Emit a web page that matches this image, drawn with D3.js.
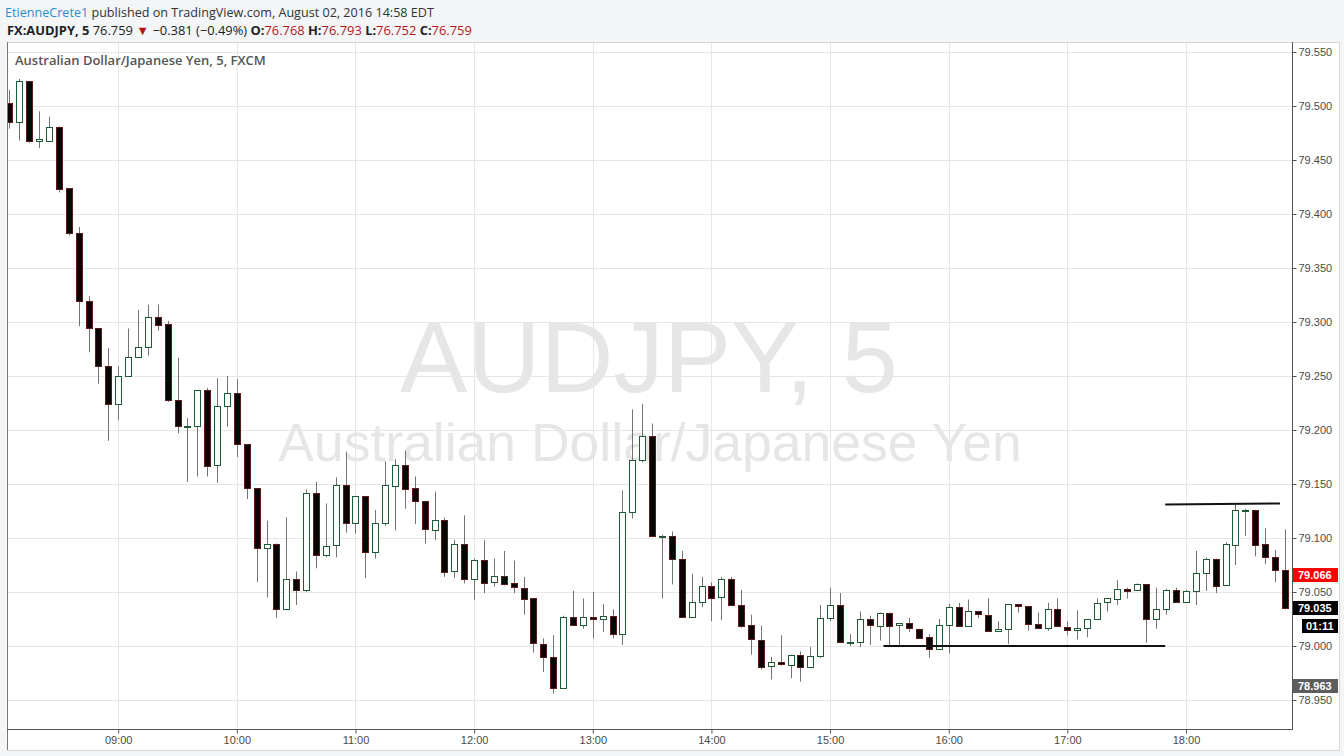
<!DOCTYPE html>
<html><head><meta charset="utf-8">
<script src="https://cdn.jsdelivr.net/npm/d3@7"></script>
<style>
html,body{margin:0;padding:0;background:#f3f5f7;}
svg{display:block;}
</style></head>
<body>
<svg id="c" width="1344" height="756"></svg>
<script>
// ---- data (AUDJPY 5-minute bars, first bar 08:05) ----
const startTime = [2016, 7, 2, 8, 5];
const opens = [79.503,79.485,79.523,79.467,79.468,79.481,79.424,79.382,79.319,79.294,
79.259,79.224,79.250,79.268,79.277,79.305,79.298,79.228,79.204,79.204,
79.237,79.167,79.222,79.234,79.187,79.146,79.090,79.094,79.034,79.062,
79.052,79.142,79.085,79.093,79.149,79.114,79.139,79.087,79.114,79.149,
79.168,79.146,79.134,79.108,79.117,79.069,79.094,79.062,79.080,79.059,
79.065,79.058,79.054,79.044,79.002,78.990,78.961,79.027,79.020,79.027,
79.025,79.028,79.011,79.124,79.172,79.194,79.101,79.102,79.081,79.027,
79.041,79.056,79.045,79.062,79.038,79.019,79.006,78.981,78.985,78.983,
78.992,78.981,78.991,79.026,79.038,79.004,79.004,79.025,79.019,79.031,
79.019,79.021,79.016,79.008,78.997,79.019,79.036,79.018,79.032,79.029,
79.014,79.016,79.039,79.037,79.020,79.016,79.034,79.018,79.015,79.017,
79.025,79.040,79.044,79.053,79.051,79.057,79.025,79.034,79.052,79.041,
79.051,79.068,79.081,79.056,79.094,79.126,79.126,79.094,79.082,79.070];
const highs = [79.515,79.525,79.523,79.495,79.490,79.481,79.424,79.388,79.324,79.294,
79.276,79.259,79.294,79.311,79.316,79.316,79.301,79.267,79.211,79.237,
79.239,79.248,79.250,79.247,79.187,79.146,79.116,79.095,79.119,79.069,
79.145,79.152,79.132,79.156,79.180,79.139,79.139,79.126,79.171,79.173,
79.181,79.157,79.134,79.143,79.119,79.098,79.121,79.081,79.098,79.081,
79.088,79.079,79.064,79.044,79.007,79.010,79.028,79.051,79.044,79.050,
79.039,79.034,79.144,79.219,79.224,79.206,79.103,79.106,79.088,79.067,
79.064,79.059,79.064,79.064,79.052,79.029,79.019,78.990,79.010,78.992,
78.995,78.999,79.038,79.054,79.049,79.011,79.032,79.028,79.031,79.031,
79.021,79.026,79.016,79.011,79.025,79.039,79.040,79.043,79.032,79.044,
79.023,79.039,79.039,79.037,79.031,79.040,79.044,79.023,79.033,79.025,
79.044,79.044,79.061,79.054,79.058,79.057,79.054,79.053,79.054,79.052,
79.088,79.082,79.081,79.096,79.132,79.127,79.126,79.109,79.089,79.108];
const lows = [79.479,79.468,79.466,79.461,79.467,79.420,79.380,79.296,79.272,79.243,
79.190,79.209,79.250,79.268,79.269,79.292,79.226,79.197,79.152,79.157,
79.157,79.151,79.203,79.175,79.136,79.059,79.045,79.026,79.034,79.038,
79.050,79.072,79.082,79.082,79.105,79.104,79.063,79.081,79.111,79.107,
79.127,79.113,79.095,79.098,79.064,79.063,79.058,79.043,79.049,79.055,
79.056,79.049,79.029,78.994,78.976,78.956,78.961,79.019,79.016,79.007,
79.013,79.007,79.001,79.118,79.170,79.101,79.044,79.057,79.027,79.027,
79.036,79.023,79.024,79.038,79.017,78.992,78.978,78.969,78.982,78.970,
78.967,78.981,78.989,79.023,79.004,79.000,78.999,79.001,79.005,79.001,
79.001,79.013,79.008,78.989,78.997,78.993,79.018,79.018,79.026,79.014,
79.014,79.002,79.031,79.014,79.016,79.014,79.018,79.010,79.006,79.008,
79.025,79.032,79.038,79.044,79.051,79.003,79.016,79.029,79.041,79.041,
79.038,79.051,79.049,79.056,79.075,79.102,79.083,79.076,79.059,79.034];
const closes = [79.485,79.523,79.467,79.469,79.481,79.424,79.382,79.319,79.294,79.259,
79.224,79.250,79.268,79.277,79.305,79.298,79.228,79.204,79.204,79.237,
79.167,79.222,79.234,79.187,79.146,79.090,79.094,79.034,79.062,79.052,
79.142,79.085,79.093,79.149,79.114,79.139,79.087,79.114,79.149,79.168,
79.146,79.134,79.108,79.117,79.069,79.094,79.062,79.080,79.059,79.065,
79.058,79.054,79.044,79.002,78.990,78.961,79.027,79.020,79.027,79.025,
79.028,79.011,79.124,79.172,79.194,79.101,79.102,79.081,79.027,79.041,
79.056,79.045,79.062,79.038,79.019,79.006,78.981,78.985,78.983,78.992,
78.981,78.991,79.026,79.038,79.004,79.004,79.025,79.019,79.031,79.019,
79.021,79.016,79.008,78.997,79.019,79.036,79.018,79.032,79.029,79.014,
79.016,79.039,79.037,79.020,79.016,79.034,79.018,79.015,79.017,79.025,
79.040,79.044,79.053,79.051,79.057,79.025,79.034,79.052,79.041,79.051,
79.068,79.081,79.056,79.094,79.126,79.126,79.094,79.082,79.070,79.035];

const priceTicks = [78.95,79.00,79.05,79.10,79.15,79.20,79.25,79.30,79.35,79.40,79.45,79.50,79.55];
const hourTicks = [9,10,11,12,13,14,15,16,17,18];
// drawn trend lines: [start bar index (fractional), start price, end bar index, end price]
const drawnLines = [[88.4,79.000,116.9,79.000],[116.9,79.131,128.5,79.132]];
// price labels on the axis: [text, price, kind]
const axisLabels = [["79.066",79.066,"red"],["79.035",79.035,"black"],["78.963",78.963,"grey"]];
const countdown = "01:11";

// ---- layout ----
const svg = d3.select("#c");
const L = 7, R = 1292, T = 42, B = 729;
const dt = i => new Date(startTime[0],startTime[1],startTime[2],startTime[3],startTime[4]+5*i);
const hourDate = h => new Date(2016,7,2,h,0);
const x = d3.scaleTime().domain([hourDate(9),hourDate(18)]).range([118.2,1186]);
const y = d3.scaleLinear().domain([79.0,79.55]).range([646,52]);
const FONT = "'Liberation Sans', Arial, sans-serif";
const HFONT = "'Open Sans', 'Liberation Sans', sans-serif";

// header
svg.append("rect").attr("width",1344).attr("height",756).attr("fill","#f3f5f7");
const h1 = svg.append("text").attr("x",5).attr("y",17).attr("font-family",HFONT).attr("font-size",12.6).attr("fill","#333");
h1.append("tspan").attr("fill","#2a8fce").text("EtienneCrete1");
h1.append("tspan").text(" published on TradingView.com, August 02, 2016 14:58 EDT");
const h2 = svg.append("text").attr("x",7).attr("y",35).attr("font-family",HFONT).attr("font-size",12.9).attr("fill","#222");
const parts = [["FX:AUDJPY, 5","700","#222"],[" 76.759 ","400","#222"],["▼","400","#b01818"],[" −0.381 (−0.49%) ","400","#222"],
  ["O:","700","#222"],["76.768 ","400","#b01818"],["H:","700","#222"],["76.793 ","400","#b01818"],
  ["L:","700","#222"],["76.752 ","400","#b01818"],["C:","700","#222"],["76.759","400","#b01818"]];
parts.forEach(p=>h2.append("tspan").attr("font-weight",p[1]).attr("fill",p[2]).text(p[0]));

// pane
svg.append("rect").attr("x",L+0.5).attr("y",T+0.5).attr("width",1339-L).attr("height",750-T).attr("fill","#fff").attr("stroke","#d6d6d6");
svg.append("line").attr("x1",L+0.5).attr("x2",L+0.5).attr("y1",T).attr("y2",750).attr("stroke","#777");

// grid
const grid = svg.append("g");
grid.selectAll(".hg").data(priceTicks).join("line")
  .attr("x1",L+1).attr("x2",R).attr("y1",d=>Math.round(y(d))+0.5).attr("y2",d=>Math.round(y(d))+0.5)
  .attr("stroke","#e6e6e6");
grid.selectAll(".vg").data(hourTicks).join("line")
  .attr("x1",d=>Math.round(x(hourDate(d)))+0.5).attr("x2",d=>Math.round(x(hourDate(d)))+0.5)
  .attr("y1",T+1).attr("y2",B).attr("stroke","#e6e6e6");

// watermark
svg.append("text").attr("x",649).attr("y",392).attr("text-anchor","middle").attr("font-family",FONT)
  .attr("font-size",101).attr("fill","#e6e6e6").text("AUDJPY, 5");
svg.append("text").attr("x",650).attr("y",461).attr("text-anchor","middle").attr("font-family",FONT)
  .attr("font-size",53.5).attr("fill","#e6e6e6").text("Australian Dollar/Japanese Yen");

svg.append("text").attr("x",15).attr("y",65).attr("font-family",HFONT).attr("font-size",13)
  .attr("font-weight","600").attr("fill","#555").text("Australian Dollar/Japanese Yen, 5, FXCM");

// candles
svg.append("clipPath").attr("id","plot").append("rect").attr("x",L+1).attr("y",T+1).attr("width",R-L-1).attr("height",B-T-1);
const cg = svg.append("g").attr("clip-path","url(#plot)");
const bars = opens.map((o,i)=>({t:dt(i),o,h:highs[i],l:lows[i],c:closes[i]}));
const bull = d => d.c >= d.o;
const cx = d => Math.round(x(d.t));
cg.selectAll(".wick").data(bars).join("line")
  .attr("x1",d=>cx(d)+0.5).attr("x2",d=>cx(d)+0.5)
  .attr("y1",d=>y(d.h)).attr("y2",d=>y(d.l)).attr("stroke","#737373").attr("stroke-width",1);
cg.selectAll(".body").data(bars).join("rect")
  .attr("x",d=>cx(d)-2.5).attr("width",6)
  .attr("y",d=>Math.round(y(Math.max(d.o,d.c)))+0.5)
  .attr("height",d=>Math.max(1,Math.round(Math.abs(y(d.o)-y(d.c)))))
  .attr("fill",d=>bull(d)?"#fff":"#050505")
  .attr("stroke",d=>bull(d)?"#1f5a36":"#5e1a16").attr("stroke-width",1);

// trend lines
const idxX = i => x(dt(0)) + (x(dt(1))-x(dt(0)))*i;
cg.selectAll(".tl").data(drawnLines).join("line")
  .attr("x1",d=>idxX(d[0])).attr("y1",d=>y(d[1])).attr("x2",d=>idxX(d[2])).attr("y2",d=>y(d[3]))
  .attr("stroke","#111").attr("stroke-width",2);

// axes
const ay = svg.append("g").attr("transform",`translate(${R+0.5},0)`)
  .call(d3.axisRight(y).tickValues(priceTicks).tickSize(4).tickFormat(d3.format(".3f")));
ay.select(".domain").remove();
svg.append("line").attr("x1",R+0.5).attr("x2",R+0.5).attr("y1",T).attr("y2",B).attr("stroke","#555");
ay.selectAll("line").attr("stroke","#555");
ay.selectAll("text").attr("font-family",FONT).attr("font-size",11).attr("fill","#4a4a4a").attr("x",6);

const ax = svg.append("g").attr("transform",`translate(0,${B+0.5})`)
  .call(d3.axisBottom(x).tickValues(hourTicks.map(hourDate)).tickSize(4).tickFormat(d3.timeFormat("%H:%M")));
ax.select(".domain").remove();
svg.append("line").attr("x1",L).attr("x2",R+1).attr("y1",B+0.5).attr("y2",B+0.5).attr("stroke","#555");
ax.selectAll("line").attr("stroke","#555");
ax.selectAll("text").attr("font-family",FONT).attr("font-size",11).attr("fill","#4a4a4a").attr("y",7);

// axis price labels
const bg = {red:"#ff0000",black:"#000",grey:"#5d5d5d"};
axisLabels.forEach(a=>{
  const yy = Math.round(y(a[1]));
  svg.append("rect").attr("x",R+1).attr("y",yy-7).attr("width",45).attr("height",14).attr("fill",bg[a[2]]);
  svg.append("text").attr("x",R+6).attr("y",yy+4).attr("font-family",FONT).attr("font-size",11)
    .attr("font-weight","700").attr("fill","#fff").text(a[0]);
});
const yc = Math.round(y(axisLabels[1][1])) + 18;
svg.append("rect").attr("x",1302).attr("y",yc-7).attr("width",36).attr("height",14).attr("fill","#000");
svg.append("text").attr("x",1306).attr("y",yc+4).attr("font-family",FONT).attr("font-size",11)
  .attr("font-weight","700").attr("fill","#fff").text(countdown);
</script>
</body></html>
